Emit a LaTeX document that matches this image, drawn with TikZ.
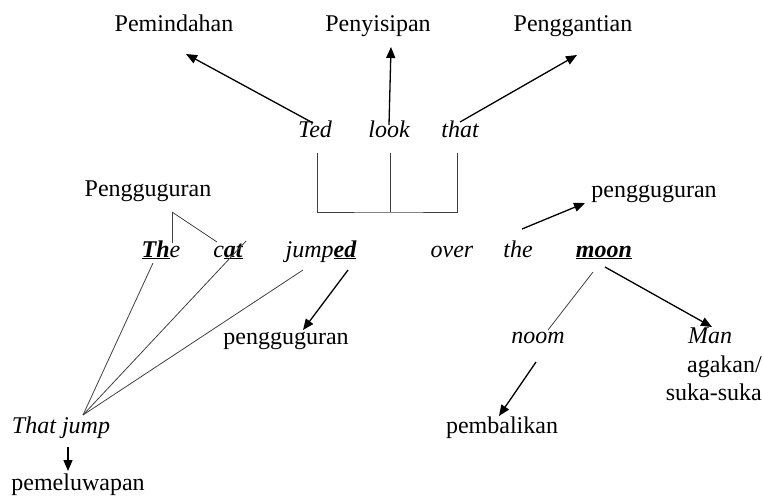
\documentclass[tikz,border=0pt]{standalone}
\usepackage{fontspec}
\setmainfont{Liberation Serif}
\usetikzlibrary{arrows.meta}
\begin{document}
\begin{tikzpicture}[x=1pt,y=-1pt,
  lbl/.style={anchor=base,inner sep=0pt,font=\fontsize{24}{27}\selectfont},
  itl/.style={lbl,font=\fontsize{24}{27}\selectfont\itshape},
  arr/.style={draw=black,line width=1.3pt,-{Triangle[length=11pt,width=9pt]}},
  thin/.style={draw=black!75,line width=0.8pt}]
\useasboundingbox (0,0) rectangle (763,499);
% top labels
\node[lbl] (pem) at (174,31) {Pemindahan};
\node[lbl] (peny) at (378,31) {Penyisipan};
\node[lbl] (peng) at (573,31) {Penggantian};
% Ted look that
\node[itl] (ted) at (315,137) {Ted};
\node[itl] (look) at (389,137) {look};
\node[itl] (that) at (460,137) {that};
% bracket
\coordinate (b1) at (317,153);
\coordinate (b2) at (390,153);
\coordinate (b3) at (457,153);
\coordinate (bb) at (390,212);
\draw[thin] (b1) |- (bb) -| (b3);
\draw[thin] (b2) -- (bb);
% arrows up
\coordinate (hpem) at (186,54);
\coordinate (hpeny) at (391,47);
\coordinate (hpeng) at (577,55);
\draw[arr] (313,123) -- (hpem);
\draw[arr] (389,125) -- (hpeny);
\draw[arr] (460,122) -- (hpeng);
% left pengguguran
\node[lbl] (pgl) at (148,196) {Pengguguran};
% sentence row
\node[itl] (the) at (161,257) {\textbf{\underline{Th}}e};
\node[itl] (cat) at (228,257) {c\textbf{\underline{at}}};
\node[itl] (jumped) at (321,257) {jump\textbf{\underline{ed}}};
\node[itl] (over) at (452,257) {over};
\node[itl] (the2) at (518,257) {the};
\node[itl] (moon) at (604,257) {\textbf{\underline{moon}}};
% pengguguran lines
\coordinate (apx) at (172,212);
\draw[thin] (apx) -- (172,243);
\draw[thin] (apx) -- (217,242);
% right pengguguran
\node[lbl] (pgr) at (654,197) {pengguguran};
\draw[arr] (522,229) -- (585,203);
% middle pengguguran
\node[lbl] (pgm) at (286,344) {pengguguran};
\draw[arr] (348,270) -- (303,330);
% That jump
\node[itl] (tj) at (61,433) {That jump};
\coordinate (tja) at (83,415);
\draw[thin] (153,263) -- (tja);
\draw[thin] (246,241) -- (tja);
\draw[thin] (303,270) -- (tja);
\node[lbl] (pml) at (78,490) {pemeluwapan};
\draw[arr] (68,447) -- (68,471);
% noom, Man
\node[itl] (noom) at (538,343) {noom};
\node[itl] (man) at (710,343) {Man};
\draw[thin] (593,272) -- (548,330);
\draw[arr] (605,267) -- (712,327);
\node[lbl,anchor=base east] (ag) at (762,372) {agakan/};
\node[lbl,anchor=base east] (ss) at (762,400) {suka-suka};
\node[lbl] (pbl) at (502,433) {pembalikan};
\draw[arr] (536,362) -- (499,416);
\end{tikzpicture}
\end{document}
